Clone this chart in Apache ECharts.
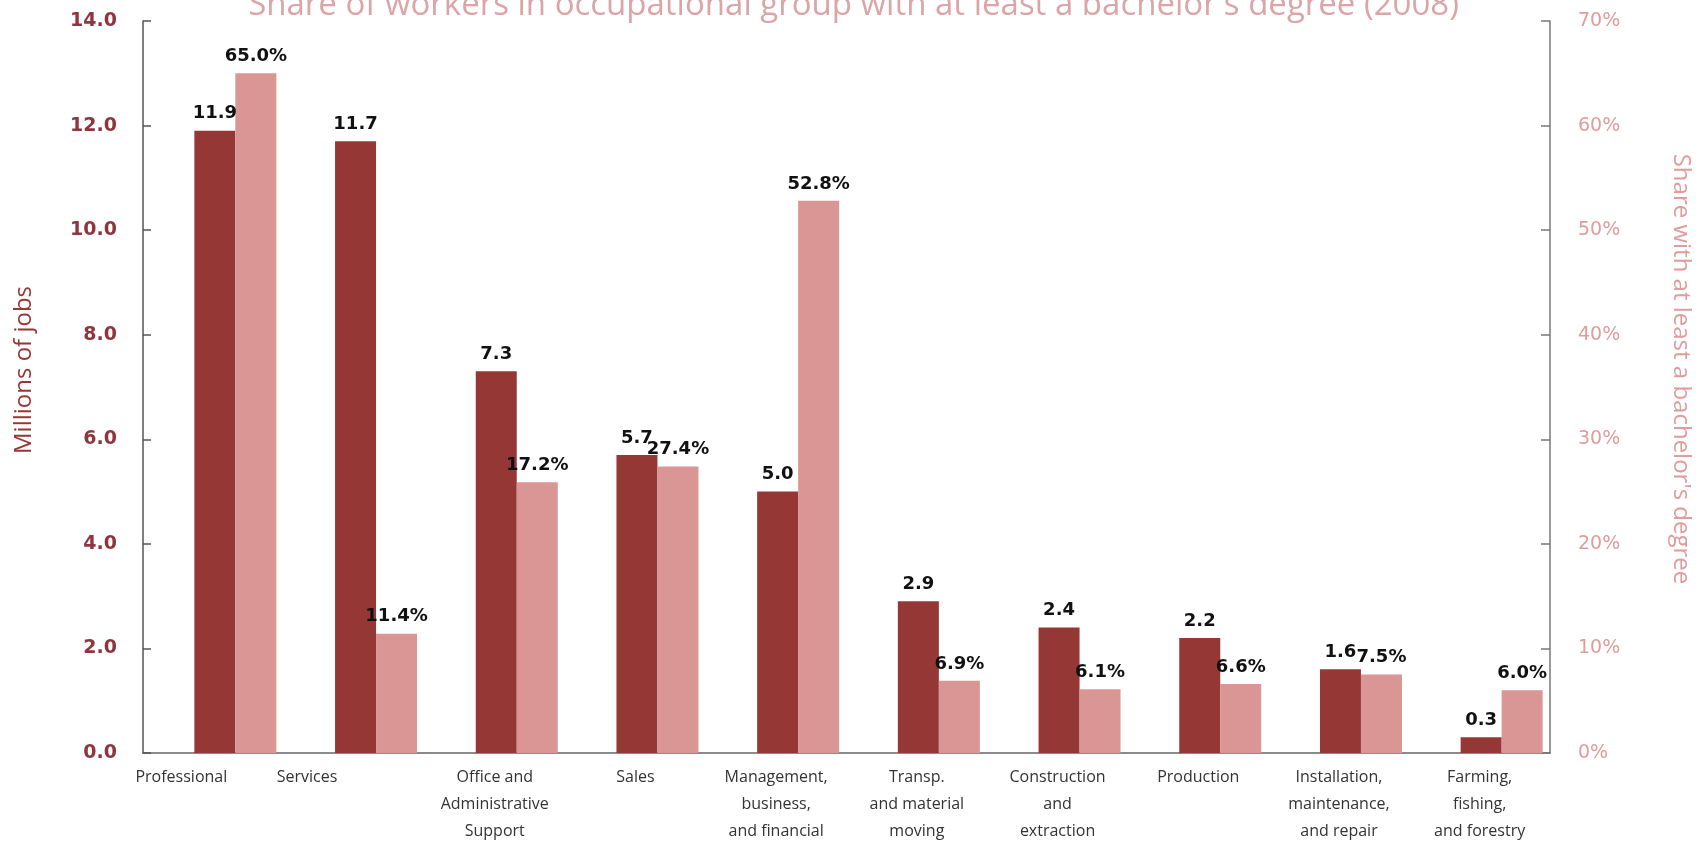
<!DOCTYPE html>
<html>
<head>
<meta charset="utf-8">
<script src="https://cdn.jsdelivr.net/npm/echarts@6/dist/echarts.min.js"></script>
<style>
  html, body { margin: 0; padding: 0; background: #ffffff; }
  #chart { width: 1707px; height: 845px; }
</style>
</head>
<body>
<div id="chart"></div>
<script>
// ---- Data ----
const categories = [
  'Professional',
  'Services',
  'Office and\nAdministrative\nSupport',
  'Sales',
  'Management,\nbusiness,\nand financial',
  'Transp.\nand material\nmoving',
  'Construction\nand\nextraction',
  'Production',
  'Installation,\nmaintenance,\nand repair',
  'Farming,\nfishing,\nand forestry'
];
const jobsMillions = [11.9, 11.7, 7.3, 5.7, 5.0, 2.9, 2.4, 2.2, 1.6, 0.3];
// bar heights as drawn in the picture (share, %)
const shareBachelor = [65.0, 11.4, 25.9, 27.4, 52.8, 6.9, 6.1, 6.6, 7.5, 6.0];
// printed labels on the share bars
const shareLabels = ['65.0%', '11.4%', '17.2%', '27.4%', '52.8%', '6.9%', '6.1%', '6.6%', '7.5%', '6.0%'];
const leftAxisRange = [0, 14, 2];
const rightAxisRange = [0, 70, 10];
const titleText = "Share of workers in occupational group with at least a bachelor's degree (2008)";
const leftAxisName = 'Millions of jobs';
const rightAxisName = "Share with at least a bachelor's degree";

// ---- Styles ----
const darkRed = '#953735';
const pink = '#d99694';
const labelFont = 'DejaVu Sans';
const textFont = 'Open Sans';

const chart = echarts.init(document.getElementById('chart'), null, { renderer: 'canvas' });

const option = {
  backgroundColor: '#ffffff',
  animation: false,
  title: {
    text: titleText,
    left: 'center',
    top: -16,
    textStyle: { fontFamily: textFont, fontSize: 33, fontWeight: 'normal', color: '#dba5a8' }
  },
  grid: { left: 143, right: 157, top: 21, bottom: 88, containLabel: false },
  xAxis: {
    type: 'category',
    data: categories,
    axisLine: { show: true, lineStyle: { color: '#666666', width: 1.5 } },
    axisTick: { show: false },
    axisLabel: {
      interval: 0,
      margin: 11,
      color: '#333333',
      fontFamily: textFont,
      fontSize: 16,
      lineHeight: 27,
      formatter: function (value, idx) {
        if (idx === 0) return '{p|' + value + '}';
        if (idx === 1) return '{s|' + value + '}';
        return value;
      },
      rich: {
        p: { fontFamily: textFont, fontSize: 16, color: '#333333', lineHeight: 27, padding: [0, 64, 0, 0] },
        s: { fontFamily: textFont, fontSize: 16, color: '#333333', lineHeight: 27, padding: [0, 94, 0, 0] }
      }
    }
  },
  yAxis: [
    {
      type: 'value',
      position: 'left',
      min: leftAxisRange[0], max: leftAxisRange[1], interval: leftAxisRange[2],
      splitLine: { show: false },
      axisLine: { show: true, lineStyle: { color: '#555555', width: 1.5 } },
      axisTick: { show: true, inside: true, length: 8, lineStyle: { color: '#555555', width: 1.5 } },
      axisLabel: {
        margin: 26,
        color: '#8f3540',
        fontFamily: labelFont,
        fontWeight: 'bold',
        fontSize: 19,
        formatter: function (v) { return v.toFixed(1); }
      },
      name: leftAxisName,
      nameLocation: 'middle',
      nameGap: 107,
      nameRotate: 90,
      nameTextStyle: { fontFamily: textFont, fontSize: 24, color: darkRed, padding: [0, 0, 0, 34] }
    },
    {
      type: 'value',
      position: 'right',
      min: rightAxisRange[0], max: rightAxisRange[1], interval: rightAxisRange[2],
      splitLine: { show: false },
      axisLine: { show: true, lineStyle: { color: '#777777', width: 1.5 } },
      axisTick: { show: true, inside: true, length: 9, lineStyle: { color: '#777777', width: 1.5 } },
      axisLabel: {
        margin: 28,
        color: '#e09c9c',
        fontFamily: labelFont,
        fontSize: 19,
        formatter: function (v) { return v + '%'; }
      },
      name: rightAxisName,
      nameLocation: 'middle',
      nameGap: 119,
      nameRotate: -90,
      nameTextStyle: { fontFamily: textFont, fontSize: 24, color: '#e09c9c', padding: [0, 36, 0, 0] }
    }
  ],
  series: [
    {
      // invisible spacer that reproduces the reference's right-shifted bar pairs
      name: 'spacer',
      type: 'bar',
      yAxisIndex: 0,
      barWidth: 44,
      barGap: '0%',
      silent: true,
      itemStyle: { color: 'transparent' },
      data: categories.map(function () { return null; })
    },
    {
      name: 'Millions of jobs',
      type: 'bar',
      yAxisIndex: 0,
      barWidth: 41,
      barGap: '0%',
      itemStyle: { color: darkRed },
      label: {
        show: true,
        position: 'top',
        distance: 8,
        color: '#111111',
        fontFamily: labelFont,
        fontWeight: 'bold',
        fontSize: 18,
        formatter: function (p) { return p.value.toFixed(1); }
      },
      data: jobsMillions
    },
    {
      name: "Share with at least a bachelor's degree",
      type: 'bar',
      yAxisIndex: 1,
      barWidth: 41,
      barGap: '0%',
      itemStyle: { color: pink },
      label: {
        show: true,
        position: 'top',
        distance: 8,
        color: '#111111',
        fontFamily: labelFont,
        fontWeight: 'bold',
        fontSize: 18,
        formatter: function (p) { return shareLabels[p.dataIndex]; }
      },
      data: shareBachelor
    }
  ]
};

chart.setOption(option);
</script>
</body>
</html>
